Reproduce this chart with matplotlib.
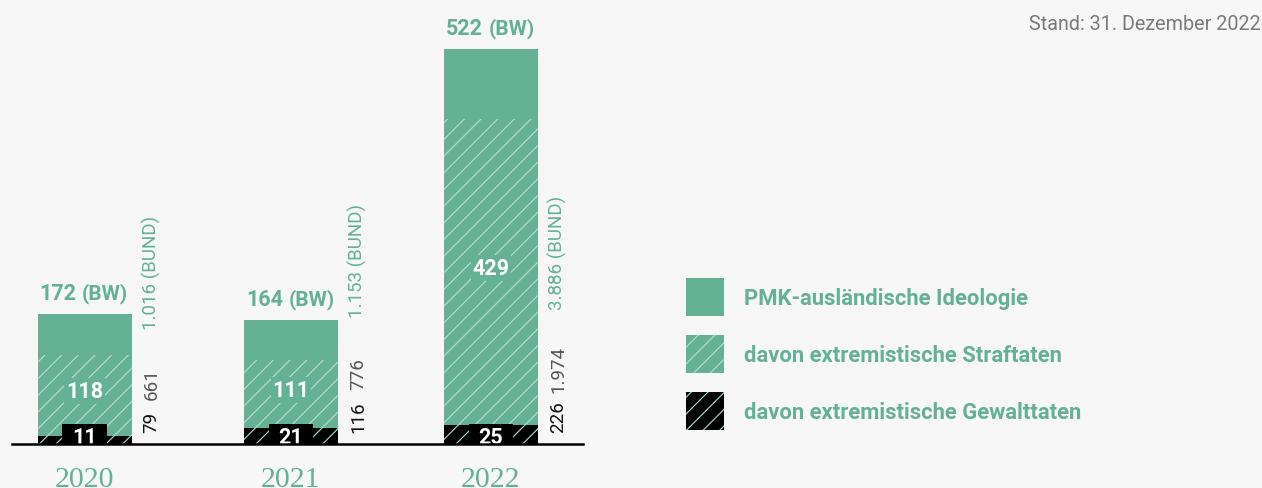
import matplotlib
matplotlib.use("Agg")
import matplotlib.pyplot as plt
from matplotlib.path import Path

# ---------------- data ----------------
years = ["2020", "2021", "2022"]
bw_total = [172, 164, 522]          # PMK-ausländische Ideologie (BW)
bw_straf = [118, 111, 429]          # davon extremistische Straftaten (BW)
bw_gewalt = [11, 21, 25]            # davon extremistische Gewalttaten (BW)
bund_gewalt = ["79", "116", "226"]
bund_straf = ["661", "776", "1.974"]
bund_total = ["1.016", "1.153", "3.886"]
series_labels = ["PMK-ausländische Ideologie",
                 "davon extremistische Straftaten",
                 "davon extremistische Gewalttaten"]
stand_text = "Stand: 31. Dezember 2022"

# ---------------- style ----------------
GREEN = "#64b196"
HATCH_GREEN = "#b6dbce"
HATCH_BLACK = "#a8d4c5"
BG = "#f7f7f7"
GRAY = "#555555"

plt.rcParams["font.family"] = ["Roboto", "DejaVu Sans"]
plt.rcParams["hatch.linewidth"] = 0.85

W, H = 1262, 489
BASE_PX = 445
PX_PER_UNIT = 0.757

fig = plt.figure(figsize=(W / 100, H / 100), dpi=100, facecolor=BG)
ax = fig.add_axes([0, (H - BASE_PX) / H, 1, BASE_PX / H])
ax.set_facecolor(BG)
ax.set_xlim(0, W)
ax.set_ylim(0, BASE_PX / PX_PER_UNIT)
ax.axis("off")


def px2y(py):
    return (BASE_PX - py) / PX_PER_UNIT


xpos = [84.5, 291, 491]
bar_w = 94

b_total = ax.bar(xpos, bw_total, width=bar_w, color=GREEN, linewidth=0,
                 zorder=1, label=series_labels[0])
b_straf = ax.bar(xpos, bw_straf, width=bar_w, color=GREEN,
                 edgecolor=HATCH_GREEN, hatch="//", linewidth=0, zorder=2,
                 label=series_labels[1])
b_gew = ax.bar(xpos, bw_gewalt, width=bar_w, color="black",
               edgecolor=HATCH_BLACK, hatch="//", linewidth=0, zorder=3,
               label=series_labels[2])

ax.axhline(0, xmin=12 / W, xmax=583 / W, color="black", lw=1.8,
           zorder=8, clip_on=False)


def black_box(x0, y0, width, height, mutation_size):
    padx = 0.46 * mutation_size
    pad_top = 0.08 * mutation_size
    pad_bot = 0.4 * mutation_size
    xa, xb = x0 - padx, x0 + width + padx
    ya, yb = y0 - pad_bot, y0 + height + pad_top
    return Path([(xa, ya), (xb, ya), (xb, yb), (xa, yb), (xa, ya)], closed=True)


# layout: start (bottom) pixel rows of the rotated BUND labels
rot_gew_px = [433, 433, 433]
rot_straf_px = [400, 390, 393]
rot_total_px = [330, 318, 310]

for i in range(3):
    x = xpos[i]
    left = x - bar_w / 2
    right = x + bar_w / 2

    # top label: "172 (BW)"
    t = ax.annotate(str(bw_total[i]), xy=(left, bw_total[i]), xytext=(1.5, 11),
                    textcoords="offset points", ha="left", va="baseline",
                    fontsize=15.5, fontweight="bold", color=GREEN, zorder=6)
    ax.annotate("(BW)", xy=(1, bw_total[i]), xycoords=(t, "data"),
                xytext=(4, 11), textcoords="offset points", ha="left",
                va="baseline", fontsize=15, fontweight="bold", color=GREEN,
                zorder=6)

    # straftaten label in hatched area
    ymid = (bw_gewalt[i] + bw_straf[i]) / 2
    ax.annotate(str(bw_straf[i]), xy=(x, ymid), xytext=(0, 3),
                textcoords="offset points", ha="center", va="center",
                fontsize=15.5, fontweight="bold", color="white", zorder=6,
                bbox=dict(boxstyle="square,pad=0.08", fc=GREEN, ec="none"))

    # gewalttaten label in black box
    ax.text(x, px2y(444), str(bw_gewalt[i]), ha="center", va="baseline",
            fontsize=15.5, fontweight="bold", color="white", zorder=7,
            clip_on=True, bbox=dict(boxstyle=black_box, fc="black", ec="none"))

    # rotated BUND labels
    xr = right + 25
    for txt, py, col in ((bund_gewalt[i], rot_gew_px[i], "#111111"),
                         (bund_straf[i], rot_straf_px[i], GRAY),
                         (bund_total[i] + " (BUND)", rot_total_px[i], GREEN)):
        ax.text(xr, px2y(py), txt, rotation=90, rotation_mode="anchor",
                ha="left", va="baseline", fontsize=13.5, color=col, zorder=6)

    # year labels
    ax.annotate(years[i], xy=(x, 0), xytext=(0, -30.5),
                textcoords="offset points", ha="center", va="baseline",
                fontsize=21.5, family=["Liberation Serif", "DejaVu Serif"],
                color=GREEN, annotation_clip=False)

leg = ax.legend(handles=[b_total, b_straf, b_gew], labels=series_labels,
                loc="upper left", bbox_to_anchor=(686 / W, 1 - 279 / H),
                bbox_transform=fig.transFigure, frameon=False, borderpad=0,
                borderaxespad=0, handlelength=1.735, handleheight=2.29,
                handletextpad=0.91, labelspacing=0.87,
                prop=dict(weight="bold", size=15.8), labelcolor=GREEN)

fig.text(1261 / W, 1 - 25 / H, stand_text, ha="right", va="center",
         fontsize=14.2, color="#7a7a7a")

fig.savefig("out.png", dpi=100, facecolor=BG)
